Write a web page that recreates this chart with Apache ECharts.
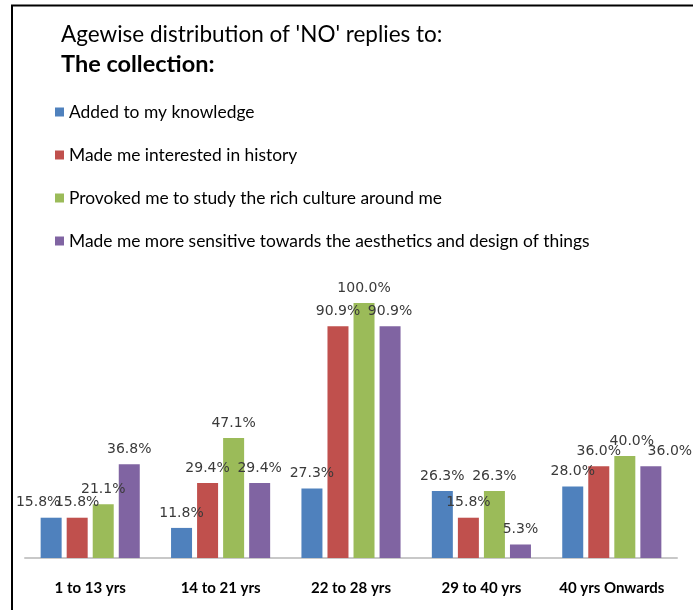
<!DOCTYPE html>
<html><head><meta charset="utf-8">
<script src="https://cdn.jsdelivr.net/npm/echarts@6/dist/echarts.min.js"></script>
<style>html,body{margin:0;padding:0;background:#fff}#c{width:693px;height:610px}</style>
</head><body><div id="c"></div>
<script>
const categories = ['1 to 13 yrs', '14 to 21 yrs', '22 to 28 yrs', '29 to 40 yrs', '40 yrs Onwards'];
const seriesNames = [
  'Added to my knowledge',
  'Made me interested in history',
  'Provoked me to study the rich culture around me',
  'Made me more sensitive towards the aesthetics and design of things'
];
const addedKnowledge = [15.8, 11.8, 27.3, 26.3, 28.0];
const interestedHistory = [15.8, 29.4, 90.9, 15.8, 36.0];
const provokedCulture = [21.1, 47.1, 100.0, 26.3, 40.0];
const sensitiveAesthetics = [36.8, 29.4, 90.9, 5.3, 36.0];

const colors = ['#4F81BD', '#C0504D', '#9BBB59', '#8064A2'];
const allValues = [addedKnowledge, interestedHistory, provokedCulture, sensitiveAesthetics];
// label horizontal nudges (series index -> category index -> dx), as in the original layout
const labelNudge = {0: {0: -13}, 2: {4: 7}, 3: {4: 19}};

const chart = echarts.init(document.getElementById('c'));
chart.setOption({
  animation: false,
  backgroundColor: '#fff',
  title: {
    text: "Agewise distribution of 'NO' replies to:",
    subtext: 'The collection:',
    left: 61, top: 23, itemGap: 6, padding: 0,
    textStyle: {fontFamily: 'Lato', fontSize: 22.5, fontWeight: 'normal', color: '#000'},
    subtextStyle: {fontFamily: 'Lato', fontSize: 23.5, fontWeight: 'bold', color: '#000'}
  },
  legend: {
    orient: 'vertical', left: 55, top: 102, padding: 0,
    itemWidth: 9, itemHeight: 9, itemGap: 23, icon: 'rect',
    data: seriesNames,
    textStyle: {fontFamily: 'Lato', fontSize: 17.4, color: '#000', lineHeight: 20}
  },
  grid: {left: 25, right: 16, top: 303, bottom: 52, containLabel: false},
  xAxis: {
    type: 'category', data: categories,
    axisLine: {lineStyle: {color: '#c8c8c8', width: 2}},
    axisTick: {show: false},
    axisLabel: {margin: 23, fontFamily: 'Lato', fontWeight: 'bold', fontSize: 15, color: '#000', interval: 0}
  },
  yAxis: {type: 'value', min: 0, max: 100, show: false, splitLine: {show: false}},
  graphic: [
    {type: 'line', shape: {x1: 11, y1: 5.5, x2: 693, y2: 5.5}, style: {stroke: '#000', lineWidth: 2}},
    {type: 'line', shape: {x1: 12, y1: 5, x2: 12, y2: 610}, style: {stroke: '#000', lineWidth: 2}}
  ],
  series: allValues.map((vals, si) => ({
    name: seriesNames[si], type: 'bar', barWidth: 21, barGap: '24%',
    itemStyle: {color: colors[si]},
    label: {
      show: true, position: 'top', distance: 8,
      fontFamily: 'DejaVu Sans', fontSize: 14, color: '#3a3a3a',
      formatter: p => p.value.toFixed(1) + '%'
    },
    data: vals.map((v, ci) => {
      const dx = (labelNudge[si] || {})[ci];
      return dx ? {value: v, label: {offset: [dx, 0]}} : v;
    })
  }))
});
</script></body></html>
